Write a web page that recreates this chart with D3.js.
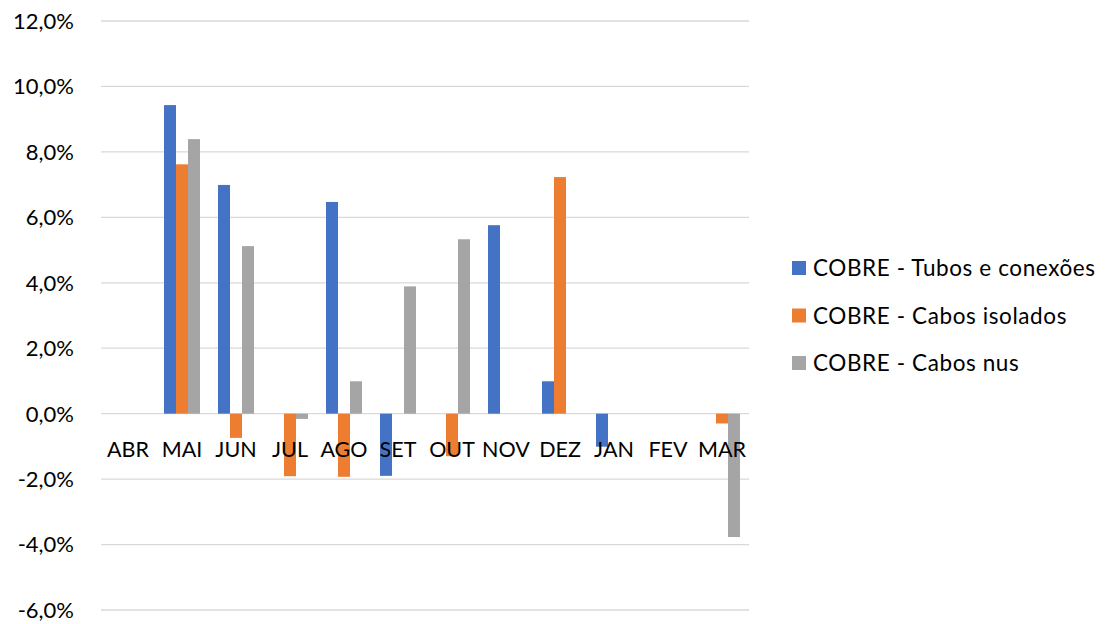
<!DOCTYPE html>
<html><head><meta charset="utf-8">
<script src="https://cdn.jsdelivr.net/npm/d3@7/dist/d3.min.js"></script>
<style>html,body{margin:0;padding:0;background:#fff;}svg{display:block;}</style>
</head><body>
<svg id="chart" width="1105" height="624"></svg>
<script>
const categories = ["ABR","MAI","JUN","JUL","AGO","SET","OUT","NOV","DEZ","JAN","FEV","MAR"];
const seriesNames = ["COBRE - Tubos e conexões","COBRE - Cabos isolados","COBRE - Cabos nus"];
const tubos    = [0, 9.43, 6.99, 0, 6.47, -1.90, 0, 5.76, 0.99, -1.01, 0, 0];
const isolados = [0, 7.62, -0.74, -1.91, -1.93, 0, -1.30, 0, 7.23, 0, 0, -0.30];
const nus      = [0, 8.39, 5.12, -0.16, 0.99, 3.89, 5.33, 0, 0, 0, 0, -3.77];
const yTicks = [-6, -4, -2, 0, 2, 4, 6, 8, 10, 12];
const colors = ["#4472C4", "#ED7D31", "#A5A5A5"];

(function(){
const series = [tubos, isolados, nus];
const svg = d3.select("#chart");
const font = "Lato, 'Open Sans', sans-serif";
const pLeft = 101, pRight = 749, pTop = 21, pBottom = 610;

const x = d3.scaleBand().domain(categories).range([pLeft, pRight]).paddingInner(0).paddingOuter(0);
const y = d3.scaleLinear().domain([-6, 12]).range([pBottom, pTop]);
const bw = x.bandwidth() / 4.5;
const xs = d3.scaleBand().domain(d3.range(series.length)).range([x.bandwidth()/2 - 1.5*bw, x.bandwidth()/2 + 1.5*bw]);

svg.append("g").selectAll("line").data(yTicks).join("line")
  .attr("x1", pLeft).attr("x2", pRight)
  .attr("y1", d => y(d)).attr("y2", d => y(d))
  .attr("stroke", "#d9d9d9").attr("stroke-width", 1.3);

svg.append("g").selectAll("text").data(yTicks).join("text")
  .attr("x", 74).attr("y", d => y(d)).attr("dy", "0.36em")
  .attr("text-anchor", "end")
  .attr("font-family", font).attr("font-size", 22).attr("fill", "#000")
  .text(d => d3.format(".1f")(d).replace(".", ",").replace("\u2212", "-") + "%");

series.forEach((s, si) => {
  svg.append("g").selectAll("rect").data(s.map((v, i) => ({v, c: categories[i]})).filter(d => d.v !== 0)).join("rect")
    .attr("x", d => x(d.c) + xs(si))
    .attr("width", xs.bandwidth())
    .attr("y", d => y(Math.max(0, d.v)))
    .attr("height", d => Math.abs(y(d.v) - y(0)))
    .attr("fill", colors[si]);
});

svg.append("g").selectAll("text").data(categories).join("text")
  .attr("x", d => x(d) + x.bandwidth()/2).attr("y", 457)
  .attr("text-anchor", "middle")
  .attr("font-family", font).attr("font-size", 21.5).attr("fill", "#000")
  .text(d => d);

const lg = svg.append("g");
seriesNames.forEach((n, i) => {
  const cy = 268 + i * 47.5;
  lg.append("rect").attr("x", 792).attr("y", cy - 7).attr("width", 14).attr("height", 14).attr("fill", colors[i]);
  lg.append("text").attr("x", 813).attr("y", cy).attr("dy", "0.36em")
    .attr("font-family", font).attr("font-size", 22.5).attr("letter-spacing", 0.6).attr("fill", "#000").text(n);
});
})();
</script>
</body></html>
